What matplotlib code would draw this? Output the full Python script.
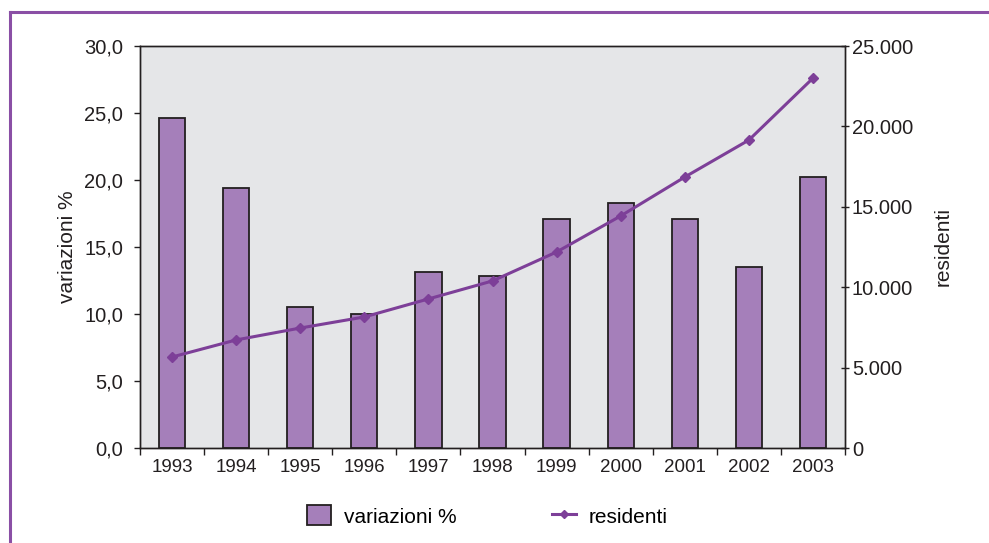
import matplotlib
matplotlib.use("Agg")
import matplotlib.pyplot as plt
from matplotlib.lines import Line2D
from matplotlib.patches import Patch
from matplotlib.ticker import FuncFormatter, FixedLocator

plt.rcParams['font.family'] = ['Liberation Sans', 'DejaVu Sans']

years = ['1993', '1994', '1995', '1996', '1997', '1998', '1999', '2000', '2001', '2002', '2003']
variazioni = [24.6, 19.4, 10.5, 10.0, 13.1, 12.8, 17.1, 18.3, 17.1, 13.5, 20.2]
residenti = [5660, 6720, 7460, 8150, 9270, 10390, 12190, 14430, 16850, 19150, 23000]

bar_color = '#a57fba'
line_color = '#7d3f98'
border_color = '#8a4fa5'
bg_color = '#e5e6e8'
dark = '#231f20'

fig = plt.figure(figsize=(9.89, 5.43), dpi=100)
ax = fig.add_axes([140/989, 1-448/543, 705/989, 402/543])
ax.set_facecolor(bg_color)
x = list(range(len(years)))
ax.bar(x, variazioni, width=0.41, color=bar_color, edgecolor=dark, linewidth=1.3, zorder=2)
ax.set_xlim(-0.5, len(years)-0.5)
ax.set_ylim(0, 30)
ax.set_yticks([0, 5, 10, 15, 20, 25, 30])
ax.yaxis.set_major_formatter(FuncFormatter(lambda v, p: f"{v:.1f}".replace('.', ',')))
ax.set_xticks(x)
ax.set_xticklabels(years)
ax.xaxis.set_minor_locator(FixedLocator([i + 0.5 for i in range(-1, len(years))]))
ax.tick_params(axis='x', which='major', length=0, labelsize=13.5, pad=8, colors=dark)
ax.tick_params(axis='x', which='minor', length=5, width=1, color=dark)
ax.tick_params(axis='y', length=4, width=1, labelsize=14.5, colors=dark, pad=8)
ax.set_ylabel('variazioni %', fontsize=15, color=dark, labelpad=5)
for s in ax.spines.values():
    s.set_color(dark)
    s.set_linewidth(1.0)

ax2 = ax.twinx()
ax2.plot(x, residenti, color=line_color, linewidth=2.2, marker='D', markersize=5.5, zorder=3)
ax2.set_ylim(0, 25000)
ax2.set_yticks([0, 5000, 10000, 15000, 20000, 25000])
ax2.yaxis.set_major_formatter(FuncFormatter(lambda v, p: '0' if v == 0 else f"{int(v):,}".replace(',', '.')))
ax2.tick_params(axis='y', length=6, width=1, direction='inout', labelsize=14.5, colors=dark, pad=2)
ax2.set_ylabel('residenti', fontsize=15, color=dark, labelpad=15)
for s in ax2.spines.values():
    s.set_color(dark)
    s.set_linewidth(1.0)

handles = [Patch(facecolor=bar_color, edgecolor=dark, linewidth=1.3),
           Line2D([0], [0], color=line_color, linewidth=2.2, marker='D', markersize=4)]
fig.legend(handles, ['variazioni %', 'residenti'], ncol=2, frameon=False,
           loc='center', bbox_to_anchor=(0.493, 1-516/543), fontsize=15,
           columnspacing=4.6, handlelength=1.15, handleheight=1.1, handletextpad=0.6)

fig.add_artist(Line2D([10/989, 1.0], [1-12/543, 1-12/543], color=border_color, linewidth=2.2, transform=fig.transFigure))
fig.add_artist(Line2D([10/989, 10/989], [1-12/543, 0], color=border_color, linewidth=2.2, transform=fig.transFigure))

fig.savefig('out.png', dpi=100)
